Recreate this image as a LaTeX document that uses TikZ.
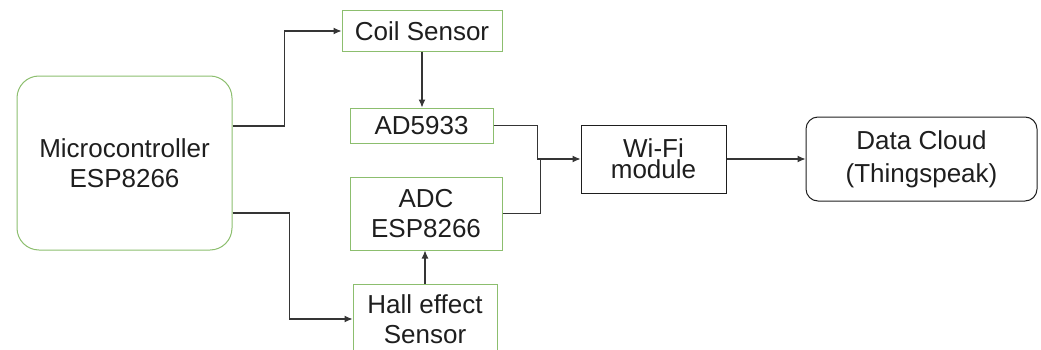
\documentclass[tikz,border=0pt]{standalone}
\usepackage{fontspec}
\setmainfont{Liberation Sans}
\usetikzlibrary{arrows.meta}
\definecolor{boxgreen}{RGB}{140,190,110}
\definecolor{inkgray}{RGB}{30,30,30}
\begin{document}
\begin{tikzpicture}[x=1pt, y=1pt,
    greenbox/.style={draw=boxgreen, line width=1pt, text=inkgray, align=center, inner sep=0pt,
        font=\fontsize{26}{30}\selectfont},
    blackbox/.style={draw=inkgray, line width=1pt, text=inkgray, align=center, inner sep=0pt,
        font=\fontsize{26}{30}\selectfont},
    conn/.style={draw=inkgray!90, line width=1.1pt},
    arr/.style={conn, -{Latex[length=8pt,width=7pt]}}]
    \useasboundingbox (0,0) rectangle (1041,349);

    % Blocks
    \node[greenbox, rounded corners=22pt, minimum width=215pt, minimum height=174pt]
        (micro) at (124.5,186) {Microcontroller\\ESP8266};
    \node[greenbox, minimum width=160pt, minimum height=40pt]
        (coil) at (422,318) {Coil Sensor};
    \node[greenbox, minimum width=143pt, minimum height=35pt]
        (ad) at (421.5,223.5) {AD5933};
    \node[greenbox, minimum width=152pt, minimum height=73pt]
        (adc) at (426,135.5) {ADC\\ESP8266};
    \node[greenbox, minimum width=144pt, minimum height=70pt]
        (hall) at (425,30) {Hall effect\\Sensor};
    \node[blackbox, minimum width=145pt, minimum height=68pt,
        font=\fontsize{26}{21}\selectfont]
        (wifi) at (653.5,190) {Wi-Fi\\module};
    \node[blackbox, rounded corners=12pt, minimum width=231pt, minimum height=84pt,
        font=\fontsize{26}{33}\selectfont]
        (cloud) at (921.5,190) {Data Cloud\\(Thingspeak)};

    % Microcontroller to the sensors
    \draw[arr] ([yshift=37pt]micro.east) -- ++(52,0) |- (coil.west);
    \draw[arr] ([yshift=-50pt]micro.east) -- ++(57,0) |- (hall.west);

    % Sensors to their converters
    \draw[arr] (coil.south) -- (coil.south |- ad.north);
    \draw[arr] (hall.north) -- (hall.north |- adc.south);

    % Converters to Wi-Fi, then to the cloud
    \draw[arr] (ad.east) -- ++(44,0) |- (wifi.west);
    \draw[conn] (adc.east) -| ([xshift=-40pt]wifi.west);
    \draw[arr] (wifi.east) -- (cloud.west);
\end{tikzpicture}
\end{document}
